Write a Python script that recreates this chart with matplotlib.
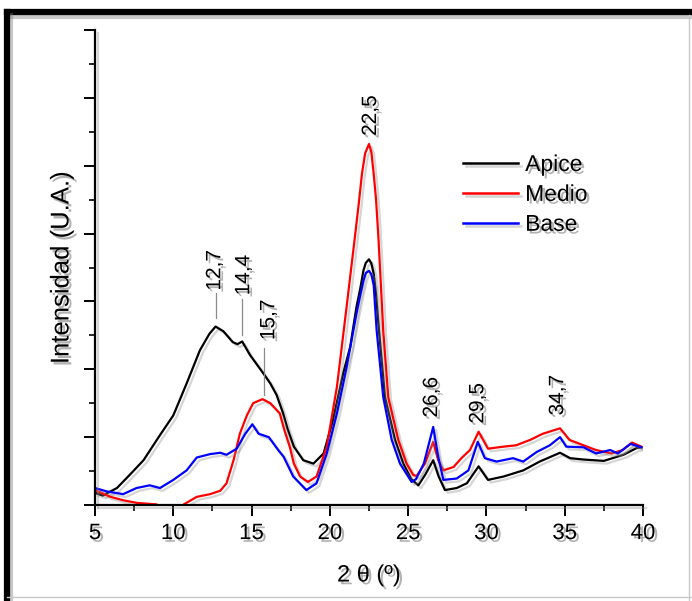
import matplotlib
matplotlib.use("Agg")
import matplotlib.pyplot as plt
import matplotlib.patheffects as pe
from matplotlib.ticker import MultipleLocator, NullFormatter
from matplotlib import font_manager

# --- diffraction patterns (2-theta in degrees, intensity in arbitrary units) ---
apice_x = [5.0, 5.5, 6.4, 7.2, 8.1, 9.15, 10.0, 10.85, 11.7, 12.3, 12.7, 13.2, 13.8,
           14.1, 14.4, 14.9, 15.75, 16.2, 16.6, 17.0, 17.3, 17.7, 18.3, 18.95, 19.6,
           20.2, 20.85, 21.3, 21.7, 21.95, 22.15, 22.3, 22.5, 22.65, 22.8, 22.95,
           23.14, 23.52, 24.16, 24.69, 25.2, 25.65, 26.1, 26.6, 26.95, 27.35, 28.1,
           28.75, 29.5, 30.1, 31.1, 32.35, 33.4, 34.7, 35.35, 36.2, 37.5, 38.75,
           39.6, 39.9]
apice_y = [0.18, 0.14, 0.25, 0.44, 0.66, 1.03, 1.32, 1.79, 2.28, 2.52, 2.63, 2.56, 2.40,
           2.37, 2.41, 2.21, 1.94, 1.79, 1.62, 1.36, 1.12, 0.86, 0.66, 0.61, 0.76,
           1.25, 1.94, 2.33, 2.92, 3.20, 3.46, 3.57, 3.62, 3.56, 3.41, 3.10,
           2.57, 1.59, 0.96, 0.61, 0.38, 0.29, 0.45, 0.66, 0.42, 0.22, 0.25,
           0.32, 0.57, 0.37, 0.42, 0.51, 0.64, 0.77, 0.69, 0.67, 0.65, 0.74,
           0.84, 0.85]

medio_x = [5.0, 6.0, 6.8, 7.7, 8.9, 9.5, 10.3, 10.75, 11.5, 12.35, 13.0, 13.4, 13.85,
           14.25, 14.7, 15.1, 15.7, 16.2, 16.8, 17.1, 17.45, 17.7, 18.1, 18.6, 19.15,
           19.8, 20.45, 21.07, 21.6, 21.85, 22.05, 22.25, 22.5, 22.65, 22.8, 22.95,
           23.1, 23.41, 23.73, 24.37, 24.9, 25.33, 25.55, 26.07, 26.6, 26.92, 27.24,
           27.9, 28.4, 28.95, 29.5, 30.1, 31.1, 31.9, 32.8, 33.6, 34.7, 35.3, 36.2,
           37.0, 38.0, 38.7, 39.3, 39.9]
medio_y = [0.22, 0.12, 0.07, 0.03, 0.01, -0.05, -0.05, 0.02, 0.12, 0.16, 0.21, 0.32, 0.66,
           1.05, 1.32, 1.50, 1.56, 1.50, 1.35, 1.10, 0.85, 0.61, 0.42, 0.34, 0.42,
           0.86, 1.74, 2.92, 3.95, 4.45, 4.88, 5.18, 5.32, 5.20, 4.88, 4.50,
           3.95, 2.57, 1.59, 0.96, 0.61, 0.44, 0.43, 0.61, 0.93, 0.66, 0.51,
           0.56, 0.69, 0.81, 1.08, 0.83, 0.86, 0.88, 0.96, 1.05, 1.13, 0.96, 0.88,
           0.81, 0.76, 0.81, 0.92, 0.86]

base_x = [5.0, 5.75, 6.8, 7.65, 8.5, 9.15, 10.0, 10.85, 11.5, 12.35, 13.0, 13.4, 14.05,
          14.6, 15.05, 15.45, 16.1, 16.7, 17.05, 17.66, 18.5, 19.15, 19.8, 20.45,
          21.07, 21.7, 21.95, 22.15, 22.3, 22.5, 22.65, 22.8, 22.99, 23.41, 23.95,
          24.48, 25.22, 25.5, 26.0, 26.6, 26.92, 27.25, 28.1, 28.85, 29.45, 29.9,
          30.65, 31.7, 32.35, 33.2, 34.05, 34.7, 35.1, 36.2, 37.0, 37.9, 38.4, 39.2,
          39.9]
base_y = [0.25, 0.20, 0.16, 0.25, 0.29, 0.25, 0.37, 0.51, 0.70, 0.75, 0.77, 0.74, 0.83,
          1.05, 1.19, 1.05, 1.00, 0.81, 0.71, 0.42, 0.22, 0.32, 0.76, 1.35,
          2.03, 2.82, 3.10, 3.31, 3.42, 3.45, 3.40, 3.24, 2.57, 1.59, 0.96,
          0.61, 0.34, 0.38, 0.61, 1.15, 0.71, 0.37, 0.39, 0.51, 0.93, 0.69,
          0.64, 0.69, 0.64, 0.78, 0.88, 1.00, 0.86, 0.85, 0.76, 0.81, 0.76, 0.90,
          0.85]

series_names = ["Apice", "Medio", "Base"]
series_colors = ["#000000", "#ff0000", "#0000ff"]

# peak positions marked on the pattern
peak_labels = ["12,7", "14,4", "15,7", "22,5", "26,6", "29,5", "34,7"]
peak_text_x = [12.65, 14.5, 16.1, 22.6, 26.5, 29.45, 34.55]
peak_text_y = [3.16, 3.09, 2.43, 5.44, 1.29, 1.20, 1.32]
leader_x = [12.7, 14.4, 15.8]
leader_y0 = [2.75, 2.50, 1.62]
leader_y1 = [3.12, 3.04, 2.32]

x_ticks = [5, 10, 15, 20, 25, 30, 35, 40]


def pick_font(names):
    available = {f.name for f in font_manager.fontManager.ttflist}
    for n in names:
        if n in available:
            return n
    return "DejaVu Sans"


main_font = pick_font(["Liberation Sans", "Arial", "DejaVu Sans"])
tick_font = pick_font(["Liberation Sans Narrow", "Liberation Sans", "DejaVu Sans"])
plt.rcParams["font.family"] = [main_font, "DejaVu Sans"]

text_shadow = [pe.SimplePatchShadow(offset=(2, -2), shadow_rgbFace="#666666", alpha=0.5),
               pe.Normal()]
line_shadow = [pe.SimpleLineShadow(offset=(2, -2), shadow_color="#888888", alpha=0.35),
               pe.Normal()]

fig = plt.figure(figsize=(6.92, 6.01), dpi=100)
fig.patch.set_facecolor("white")
ax = fig.add_axes([95 / 692, 1 - 505 / 601, 548 / 692, 475 / 601])

for xs, ys, name, col in zip([apice_x, medio_x, base_x], [apice_y, medio_y, base_y],
                             series_names, series_colors):
    ax.plot(xs, ys, color=col, lw=1.6, label=name, path_effects=line_shadow,
            solid_joinstyle="round")

ax.set_xlim(5, 40)
ax.set_ylim(0, 7)
ax.spines["top"].set_visible(False)
ax.spines["right"].set_visible(False)
for s in ("left", "bottom"):
    ax.spines[s].set_linewidth(1.6)
    ax.spines[s].set_path_effects(line_shadow)

ax.set_xticks(x_ticks)
ax.xaxis.set_minor_locator(MultipleLocator(2.5))
ax.yaxis.set_major_locator(MultipleLocator(1))
ax.yaxis.set_minor_locator(MultipleLocator(0.5))
ax.yaxis.set_major_formatter(NullFormatter())
ax.tick_params(which="major", direction="out", length=8, width=1.4)
ax.tick_params(which="minor", direction="out", length=4.5, width=1.2)
ax.tick_params(axis="x", pad=5)
for lab in ax.get_xticklabels():
    lab.set_fontfamily(tick_font)
    lab.set_fontsize(16)
    lab.set_path_effects(text_shadow)

ax.set_xlabel("2 θ (º)", fontsize=17, labelpad=14, path_effects=text_shadow)
ax.set_ylabel("Intensidad (U.A.)", fontsize=18.5, labelpad=4, path_effects=text_shadow)

for lab, tx, ty in zip(peak_labels, peak_text_x, peak_text_y):
    ax.text(tx, ty, lab, rotation=90, ha="center", va="bottom", fontsize=15,
            path_effects=text_shadow)
for lx, y0, y1 in zip(leader_x, leader_y0, leader_y1):
    ax.plot([lx, lx], [y0, y1], color="#8a8a8a", lw=0.9)

leg = ax.legend(loc="upper left", bbox_to_anchor=(0.672, 0.741), frameon=False,
                fontsize=16.5, handlelength=2.4, handletextpad=0.3, labelspacing=0.3,
                borderaxespad=0, borderpad=0)
for t in leg.get_texts():
    t.set_path_effects(text_shadow)
for h in leg.get_lines():
    h.set_linewidth(1.8)
    h.set_path_effects(line_shadow)

# picture frame around the figure
frame_shadow = [pe.SimpleLineShadow(offset=(2, -3), shadow_color="#777777", alpha=0.4),
                pe.Normal()]
fig.add_artist(plt.Line2D([7 / 692, 1.0], [1 - 12 / 601, 1 - 12 / 601], color="black",
                          lw=4.5, transform=fig.transFigure, path_effects=frame_shadow))
fig.add_artist(plt.Line2D([7 / 692, 7 / 692], [1 - 12 / 601, 0.0], color="black",
                          lw=4.5, transform=fig.transFigure, path_effects=frame_shadow))
fig.add_artist(plt.Line2D([689 / 692, 689 / 692], [1 - 15 / 601, 0.0], color="#c8c8c8",
                          lw=1.0, transform=fig.transFigure))
fig.add_artist(plt.Line2D([7 / 692, 1.0], [1 - 597 / 601, 1 - 597 / 601], color="#c8c8c8",
                          lw=1.0, transform=fig.transFigure))

fig.savefig("out.png", dpi=100, facecolor="white")
